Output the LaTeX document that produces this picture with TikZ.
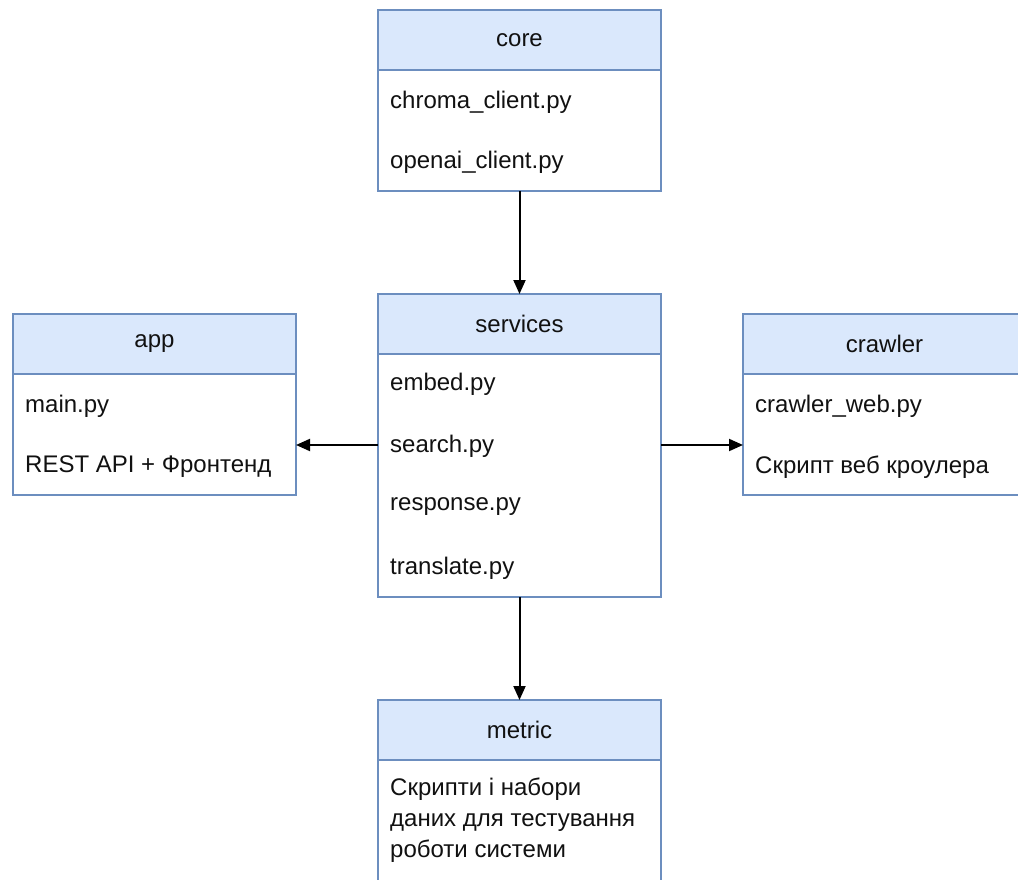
\documentclass[tikz,border=0pt]{standalone}
\usepackage{fontspec}
\setmainfont{Liberation Sans}
\usetikzlibrary{arrows.meta}
\definecolor{headblue}{HTML}{DAE8FC}
\definecolor{strokeblue}{HTML}{6C8EBF}
\definecolor{txt}{HTML}{111111}
\begin{document}
\begin{tikzpicture}[x=1pt,y=-1pt,
  body/.style={draw=strokeblue, line width=1.4pt, fill=white, anchor=north west,
    minimum width=283pt, inner sep=0pt, outer sep=0pt},
  head/.style={draw=strokeblue, line width=1.4pt, fill=headblue, anchor=north west,
    minimum width=283pt, minimum height=60pt, inner sep=0pt, outer sep=0pt,
    font=\fontsize{24}{29}\selectfont, text=txt},
  item/.style={anchor=west, inner sep=0pt, font=\fontsize{24}{29}\selectfont, text=txt},
  conn/.style={line width=2pt, -{Triangle[length=14pt,width=12pt]}}]
\useasboundingbox (0,0) rectangle (1018,880);
\clip (0,0) rectangle (1018,880);
% core
\node[body, minimum height=181pt] (core) at (378,10) {};
\node[head] (coreh) at (378,10) {core};
\node[item] (c1) at (390,102) {chroma\_client.py};
\node[item] (c2) at (390,162) {openai\_client.py};
% services
\node[body, minimum height=303pt] (services) at (378,294) {};
\node[head] (servicesh) at (378,294) {services};
\node[item] (s1) at (390,384) {embed.py};
\node[item] (s2) at (390,446) {search.py};
\node[item] (s3) at (390,507) {response.py};
\node[item] (s4) at (390,568) {translate.py};
% app
\node[body, minimum height=181pt] (app) at (13,314) {};
\node[head] (apph) at (13,314) {app};
\node[item] (a1) at (25,406) {main.py};
\node[item] (a2) at (25,467) {REST API + Фронтенд};
% crawler
\node[body, minimum height=181pt] (crawler) at (743,314) {};
\node[head] (crawlerh) at (743,314) {crawler};
\node[item] (w1) at (755,406) {crawler\_web.py};
\node[item] (w2) at (755,467) {Скрипт веб кроулера};
% metric
\node[body, minimum height=200pt] (metric) at (378,700) {};
\node[head] (metrich) at (378,700) {metric};
\node[item, anchor=north west, align=left, font=\fontsize{24}{31}\selectfont] (m1) at (390,778)
  {Скрипти і набори\\даних для тестування\\роботи системи};
% connectors
\draw[conn] (core.south) -- (servicesh.north);
\draw[conn] (services.west |- 0,445) -- (app.east |- 0,445);
\draw[conn] (services.east |- 0,445) -- (crawler.west |- 0,445);
\draw[conn] (services.south) -- (metrich.north);
\end{tikzpicture}
\end{document}
